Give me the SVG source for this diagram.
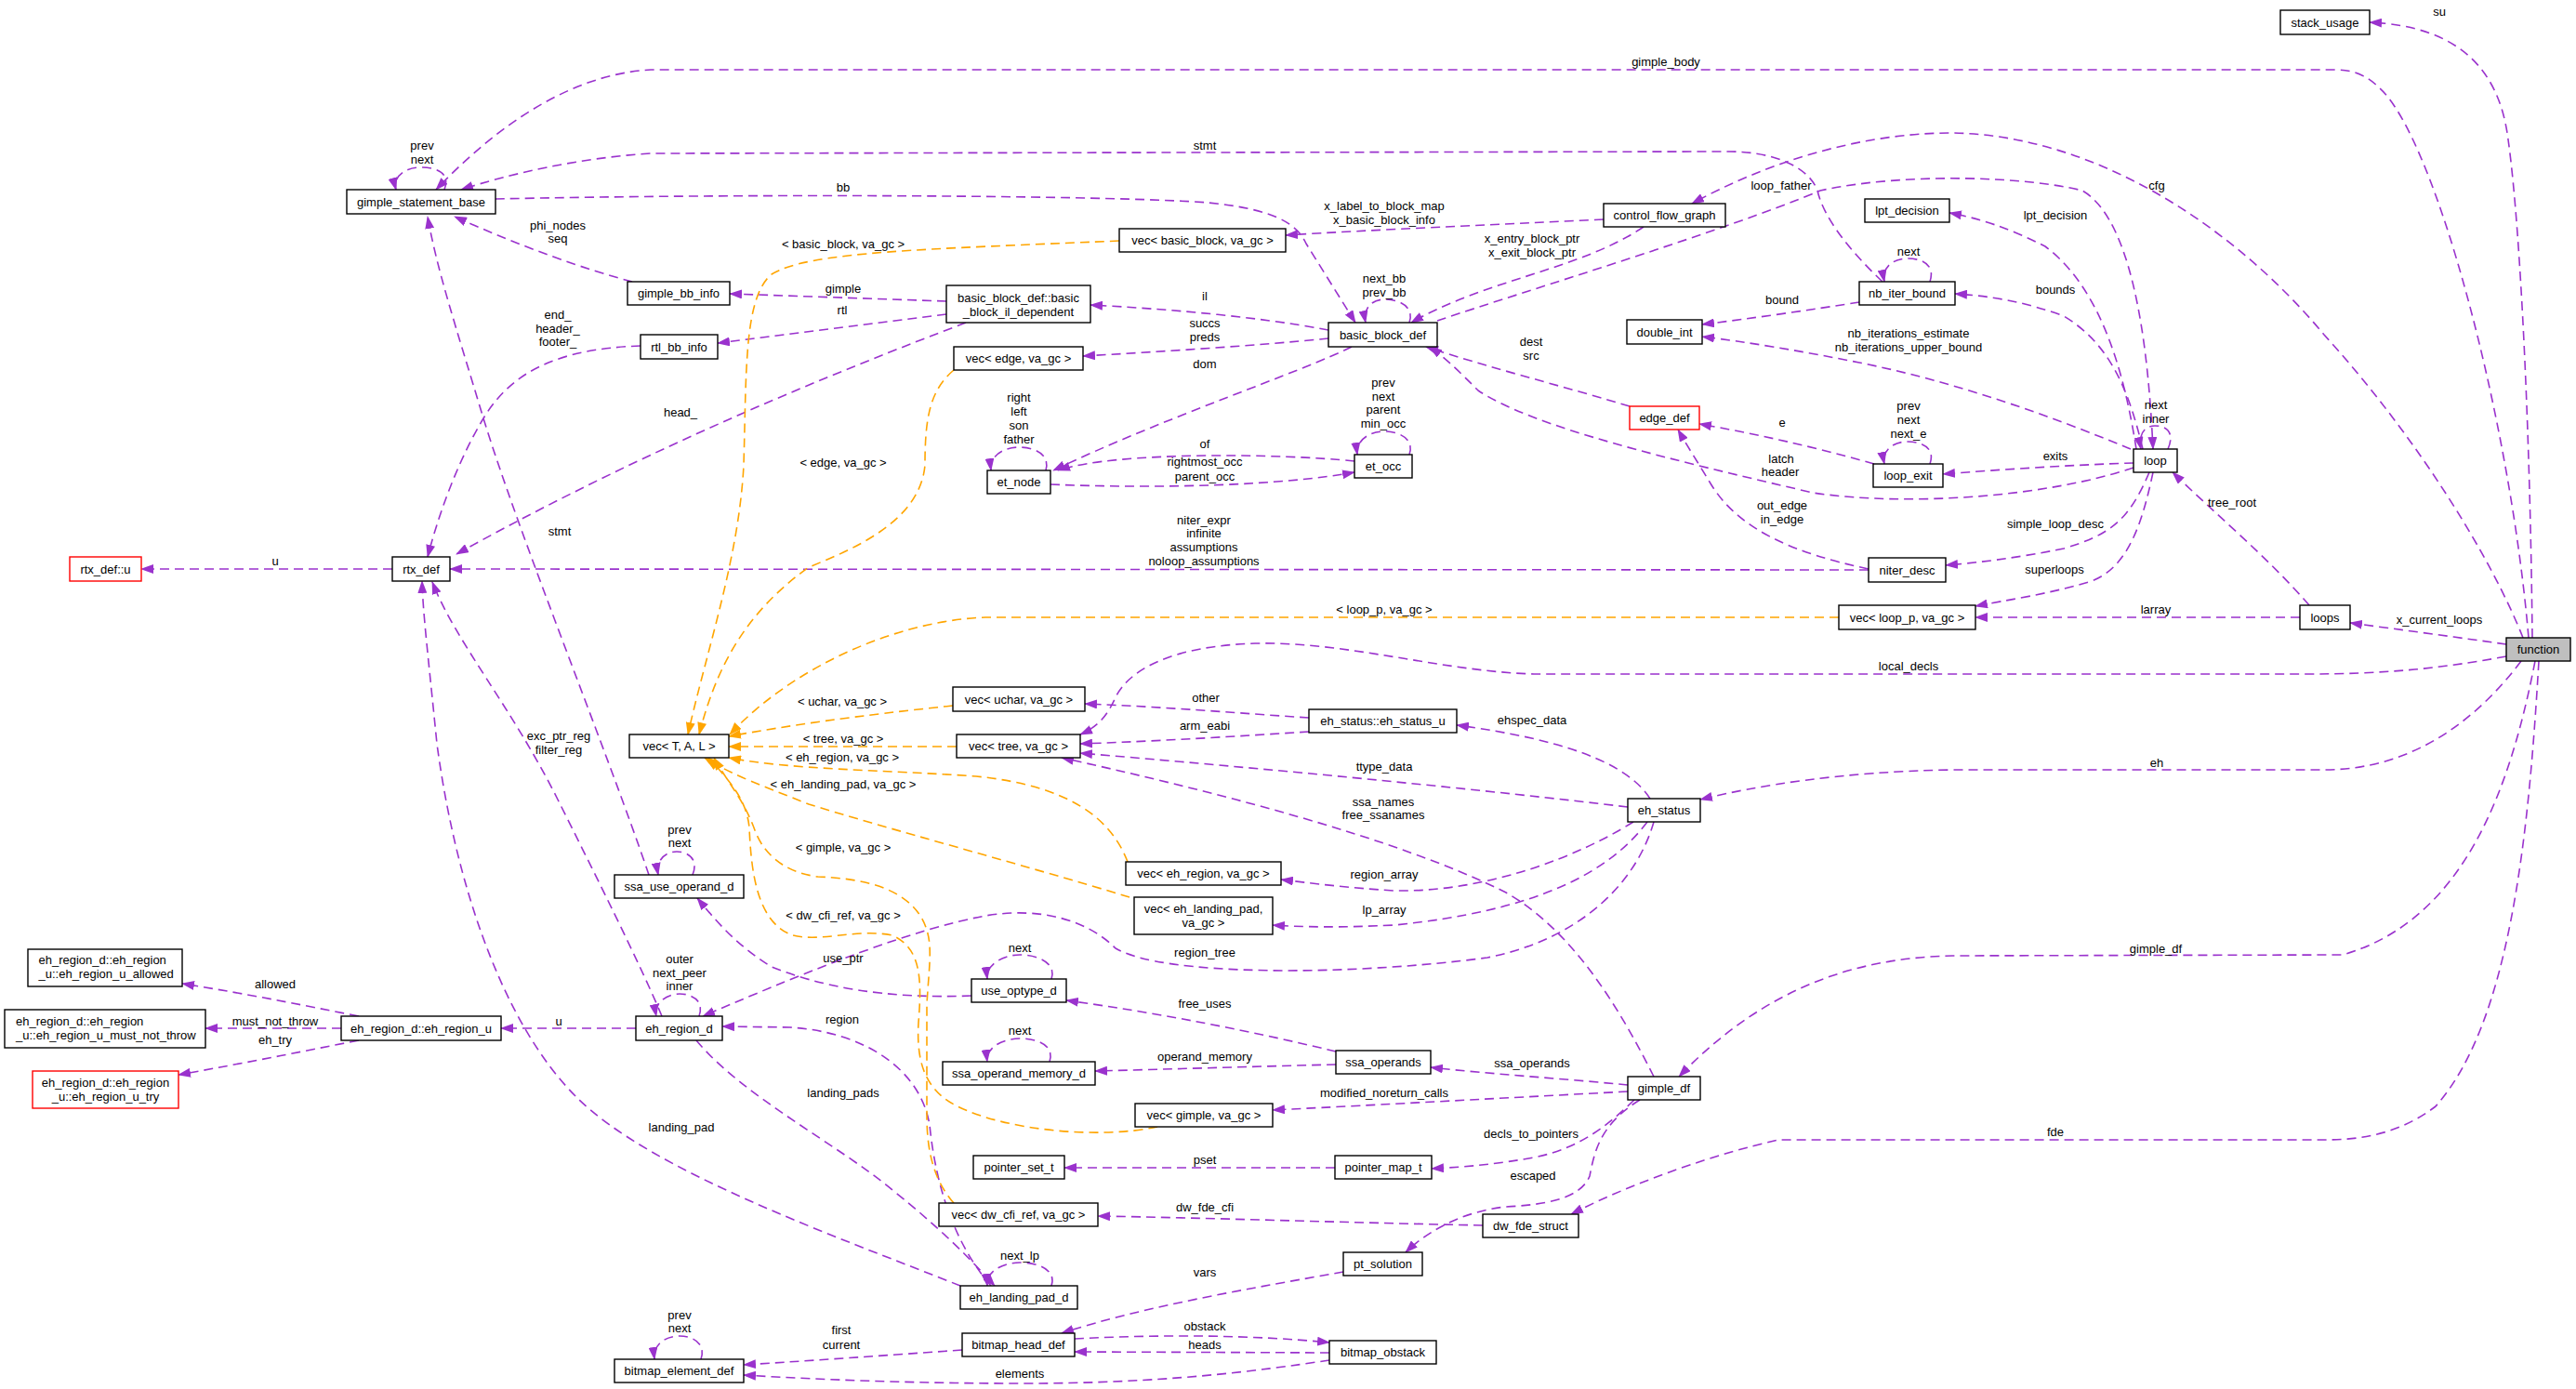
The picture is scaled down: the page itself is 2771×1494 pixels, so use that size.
<svg xmlns="http://www.w3.org/2000/svg" width="2771" height="1494" viewBox="0 0 2771 1494">
<style>
.n rect{fill:#fff;stroke:#000;stroke-width:1.4}
.r rect{fill:#fff;stroke:#ff0000;stroke-width:1.4}
.g rect{fill:#bfbfbf;stroke:#000;stroke-width:1.4}
text{font-family:"Liberation Sans",Arial,sans-serif;font-size:13px;fill:#000}
.c{text-anchor:middle}
#edges path{fill:none;stroke-width:1.6;stroke-dasharray:10,6}
#edges .p{stroke:#9a32cd;marker-end:url(#ap)}
#edges .o{stroke:#ffa500;marker-end:url(#ao)}
</style>
<defs>
<marker id="ap" markerUnits="userSpaceOnUse" markerWidth="14" markerHeight="10" viewBox="0 0 14 10" refX="13" refY="5" orient="auto"><path d="M0,0 L14,5 L0,10 z" fill="#9a32cd"/></marker>
<marker id="ao" markerUnits="userSpaceOnUse" markerWidth="14" markerHeight="10" viewBox="0 0 14 10" refX="13" refY="5" orient="auto"><path d="M0,0 L14,5 L0,10 z" fill="#ffa500"/></marker>
</defs>
<rect width="2771" height="1494" fill="#fff"/>
<g id="edges">
<path class="p" d="M2724,686 C2722,480 2712,250 2698,150 C2688,70 2640,28 2549,24"/>
<path class="p" d="M2720,686 C2700,450 2620,150 2560,95 C2545,80 2530,75 2511,75 L700,75 C610,80 530,140 469,204"/>
<path class="p" d="M2714,686 C2680,600 2600,470 2500,360 C2400,240 2250,145 2100,143 C2000,143 1900,175 1820,219"/>
<path class="p" d="M2696,693 C2640,685 2580,677 2528,670"/>
<path class="p" d="M2696,706 C2620,720 2560,725 2480,725 L1650,725 C1550,722 1450,690 1350,692 C1260,695 1215,720 1200,750 C1190,772 1180,782 1162,790"/>
<path class="p" d="M2712,711 C2660,780 2590,828 2500,828 L2100,828 C1980,830 1890,845 1829,860"/>
<path class="p" d="M2727,711 C2700,850 2650,990 2520,1027 L2100,1028 C2000,1030 1900,1060 1806,1158"/>
<path class="p" d="M2731,711 C2720,900 2700,1100 2620,1190 C2580,1220 2540,1226 2500,1226 L1913,1226 C1850,1240 1760,1270 1690,1306"/>
<path class="p" d="M2484,651 C2440,600 2380,550 2337,508"/>
<path class="p" d="M2474,664 L2125,664"/>
<path class="p" d="M1546,345 C1650,310 1850,250 1958,205 C2050,185 2180,190 2240,205 C2300,240 2312,400 2316,483"/>
<path class="p" d="M2298,483 C2285,400 2260,310 2200,265 C2160,245 2130,235 2097,229"/>
<path class="p" d="M2305,483 C2290,420 2270,370 2220,340 C2180,325 2140,318 2103,316"/>
<path class="p" d="M2292,483 C2200,445 2100,410 2000,390 C1940,378 1880,368 1831,362"/>
<path class="p" d="M2332,483 C2340,465 2330,458 2318,458 C2306,458 2300,468 2303,483"/>
<path class="p" d="M2295,498 C2230,500 2150,505 2090,510"/>
<path class="p" d="M2295,503 C2200,535 2050,545 1950,530 C1800,495 1650,460 1590,420 C1570,400 1555,385 1538,373"/>
<path class="p" d="M2312,508 C2290,560 2270,575 2220,590 C2170,600 2130,605 2093,608"/>
<path class="p" d="M2316,508 C2305,560 2290,610 2250,625 C2200,640 2160,645 2125,652"/>
<path class="p" d="M2025,303 C1990,270 1962,235 1955,205 C1945,178 1905,163 1860,163 L700,165 C620,170 545,188 496,204"/>
<path class="p" d="M2076,303 C2082,285 2068,278 2052,278 C2036,278 2024,288 2027,303"/>
<path class="p" d="M2000,325 C1950,333 1880,343 1831,349"/>
<path class="p" d="M1725,236 C1600,242 1480,247 1383,253"/>
<path class="p" d="M1768,244 C1700,290 1600,300 1518,347"/>
<path class="p" d="M533,214 C800,208 1200,210 1300,218 C1370,225 1395,240 1405,262 L1458,347"/>
<path class="p" d="M1516,347 C1522,330 1505,322 1490,322 C1475,322 1466,332 1469,347"/>
<path class="p" d="M1429,355 C1350,340 1250,332 1173,328"/>
<path class="p" d="M1429,364 C1350,372 1250,378 1165,383"/>
<path class="p" d="M1454,373 C1400,400 1250,450 1133,506"/>
<path class="p" d="M1753,437 C1680,415 1600,395 1534,373"/>
<path class="p" d="M2016,499 C1950,480 1880,465 1828,456"/>
<path class="p" d="M2010,612 C1930,595 1870,570 1840,520 C1825,495 1815,480 1805,462"/>
<path class="p" d="M2076,499 C2082,482 2068,475 2052,475 C2036,475 2024,485 2027,499"/>
<path class="p" d="M1457,496 C1380,488 1200,485 1138,506"/>
<path class="p" d="M1130,521 C1250,526 1380,522 1457,508"/>
<path class="p" d="M1516,489 C1522,472 1505,464 1489,464 C1473,464 1458,474 1460,489"/>
<path class="p" d="M1125,506 C1130,488 1112,481 1096,481 C1080,481 1064,490 1066,506"/>
<path class="p" d="M1018,324 L785,316"/>
<path class="p" d="M1018,338 L772,369"/>
<path class="p" d="M1039,347 C900,400 700,480 491,596"/>
<path class="p" d="M680,303 C630,290 560,265 489,233"/>
<path class="p" d="M478,204 C485,186 470,180 452,180 C436,180 422,190 426,204"/>
<path class="p" d="M689,372 C600,375 550,400 520,450 C490,500 470,560 460,599"/>
<path class="p" d="M698,941 C650,800 560,580 520,450 C490,350 470,290 460,233"/>
<path class="p" d="M422,612 L152,612"/>
<path class="p" d="M2010,613 L484,612"/>
<path class="p" d="M1408,772 C1330,767 1250,760 1167,757"/>
<path class="p" d="M1408,787 C1330,792 1250,797 1162,800"/>
<path class="p" d="M1751,868 C1600,850 1400,830 1162,810"/>
<path class="p" d="M1775,859 C1750,820 1680,795 1567,780"/>
<path class="p" d="M1779,1158 C1740,1080 1690,1000 1620,960 C1500,900 1300,850 1142,815"/>
<path class="p" d="M1757,884 C1700,920 1600,960 1500,958 C1450,955 1410,950 1378,946"/>
<path class="p" d="M1772,884 C1730,940 1650,980 1500,995 C1440,998 1400,997 1369,995"/>
<path class="p" d="M1779,884 C1760,950 1700,1010 1600,1030 C1450,1050 1250,1050 1200,1020 C1170,990 1120,975 1060,985 C980,1000 880,1040 756,1093"/>
<path class="p" d="M1751,1167 C1680,1160 1600,1155 1539,1148"/>
<path class="p" d="M1751,1174 C1600,1182 1450,1190 1369,1194"/>
<path class="p" d="M1758,1183 C1730,1210 1700,1235 1650,1245 C1610,1252 1580,1255 1540,1257"/>
<path class="p" d="M1764,1183 C1720,1210 1715,1240 1710,1265 C1700,1290 1660,1296 1620,1298 C1580,1302 1540,1320 1512,1347"/>
<path class="p" d="M1437,1131 C1350,1110 1250,1090 1147,1076"/>
<path class="p" d="M1437,1145 C1350,1147 1260,1150 1178,1152"/>
<path class="p" d="M1045,1071 C950,1075 880,1060 830,1040 C790,1015 770,990 750,966"/>
<path class="p" d="M1131,1053 C1137,1035 1115,1027 1097,1027 C1080,1027 1060,1037 1062,1053"/>
<path class="p" d="M1129,1142 C1135,1124 1115,1117 1097,1117 C1080,1117 1060,1126 1062,1142"/>
<path class="p" d="M745,941 C752,924 740,916 728,916 C716,916 705,925 708,941"/>
<path class="p" d="M1066,1383 C1020,1330 1005,1260 1000,1210 C990,1150 930,1110 850,1105 L777,1104"/>
<path class="p" d="M749,1119 C800,1180 900,1230 960,1280 C1010,1320 1040,1350 1070,1383"/>
<path class="p" d="M1033,1383 C900,1330 700,1260 620,1180 C540,1100 490,950 470,800 C460,700 455,660 454,625"/>
<path class="p" d="M712,1093 C690,1040 640,940 600,860 C550,760 490,690 465,626"/>
<path class="p" d="M752,1093 C758,1076 744,1069 731,1069 C718,1069 703,1078 706,1093"/>
<path class="p" d="M684,1106 L539,1106"/>
<path class="p" d="M386,1093 C320,1080 260,1068 196,1058"/>
<path class="p" d="M367,1106 L221,1106"/>
<path class="p" d="M386,1119 C320,1132 260,1144 192,1156"/>
<path class="p" d="M1131,1383 C1137,1365 1115,1358 1097,1358 C1080,1358 1060,1367 1062,1383"/>
<path class="p" d="M1436,1256 L1145,1256"/>
<path class="p" d="M1595,1318 C1450,1315 1300,1310 1181,1308"/>
<path class="p" d="M1445,1368 C1350,1385 1230,1405 1142,1434"/>
<path class="p" d="M1035,1452 C950,1458 880,1463 800,1468"/>
<path class="p" d="M1156,1440 C1250,1435 1350,1436 1430,1444"/>
<path class="p" d="M1430,1455 L1156,1454"/>
<path class="p" d="M1430,1463 C1350,1475 1250,1488 1100,1488 C1000,1488 900,1485 800,1479"/>
<path class="p" d="M754,1462 C760,1444 744,1437 731,1437 C716,1437 702,1446 704,1462"/>
<path class="o" d="M1204,259 C1000,268 870,270 830,295 C800,320 803,400 800,500 C795,600 760,700 740,790"/>
<path class="o" d="M1026,398 C1000,420 995,450 995,500 C990,560 920,590 870,610 C800,660 770,720 752,790"/>
<path class="o" d="M1978,664 L1060,664 C960,668 850,720 785,790"/>
<path class="o" d="M1025,759 C920,770 850,780 784,792"/>
<path class="o" d="M1029,803 L784,803"/>
<path class="o" d="M1213,927 C1195,880 1150,845 1050,835 C950,828 850,828 784,815"/>
<path class="o" d="M1215,965 C1100,930 950,890 870,865 C820,845 790,835 758,815"/>
<path class="o" d="M1245,1212 C1180,1226 1080,1215 1030,1190 C1000,1175 985,1150 988,1100 C992,1050 990,1020 960,1006 C920,998 880,1015 850,1005 C815,990 808,940 806,890 C803,860 785,840 762,815"/>
<path class="o" d="M1026,1294 C1005,1270 997,1240 997,1200 L997,1080 C1000,1030 1005,1010 990,985 C970,955 930,945 880,943 C840,938 820,915 812,893 C800,860 785,845 768,815"/>
</g>
<g id="labels" class="c">
<text x="2624" y="17">su</text>
<text x="1792" y="71">gimple_body</text>
<text x="1296" y="161">stmt</text>
<text x="454" y="161">prev</text><text x="454" y="176">next</text>
<text x="2320" y="204">cfg</text>
<text x="1916" y="204">loop_father</text>
<text x="907" y="206">bb</text>
<text x="1489" y="226">x_label_to_block_map</text><text x="1489" y="241">x_basic_block_info</text>
<text x="2211" y="236">lpt_decision</text>
<text x="600" y="247">phi_nodes</text><text x="600" y="261">seq</text>
<text x="1648" y="261">x_entry_block_ptr</text><text x="1648" y="276">x_exit_block_ptr</text>
<text x="907" y="267">&lt; basic_block, va_gc &gt;</text>
<text x="2053" y="275">next</text>
<text x="1489" y="304">next_bb</text><text x="1489" y="319">prev_bb</text>
<text x="907" y="315">gimple</text>
<text x="2211" y="316">bounds</text>
<text x="1296" y="323">il</text>
<text x="1917" y="327">bound</text>
<text x="906" y="338">rtl</text>
<text x="600" y="343">end_</text><text x="600" y="358">header_</text><text x="600" y="372">footer_</text>
<text x="1296" y="352">succs</text><text x="1296" y="367">preds</text>
<text x="2053" y="363">nb_iterations_estimate</text><text x="2053" y="378">nb_iterations_upper_bound</text>
<text x="1647" y="372">dest</text><text x="1647" y="387">src</text>
<text x="1296" y="396">dom</text>
<text x="1488" y="416">prev</text><text x="1488" y="431">next</text><text x="1488" y="445">parent</text><text x="1488" y="460">min_occ</text>
<text x="1096" y="432">right</text><text x="1096" y="447">left</text><text x="1096" y="462">son</text><text x="1096" y="477">father</text>
<text x="2319" y="440">next</text><text x="2319" y="455">inner</text>
<text x="2053" y="441">prev</text><text x="2053" y="456">next</text><text x="2053" y="471">next_e</text>
<text x="732" y="448">head_</text>
<text x="1917" y="459">e</text>
<text x="1296" y="482">of</text>
<text x="2211" y="495">exits</text>
<text x="1916" y="498">latch</text>
<text x="1296" y="501">rightmost_occ</text><text x="1296" y="517">parent_occ</text>
<text x="907" y="502">&lt; edge, va_gc &gt;</text>
<text x="1915" y="512">header</text>
<text x="2401" y="545">tree_root</text>
<text x="1917" y="548">out_edge</text><text x="1917" y="563">in_edge</text>
<text x="1295" y="564">niter_expr</text><text x="1295" y="578">infinite</text><text x="1295" y="593">assumptions</text><text x="1295" y="608">noloop_assumptions</text>
<text x="2211" y="568">simple_loop_desc</text>
<text x="602" y="576">stmt</text>
<text x="296" y="608">u</text>
<text x="2210" y="617">superloops</text>
<text x="1489" y="660">&lt; loop_p, va_gc &gt;</text>
<text x="2319" y="660">larray</text>
<text x="2624" y="671">x_current_loops</text>
<text x="2053" y="721">local_decls</text>
<text x="1297" y="755">other</text>
<text x="906" y="759">&lt; uchar, va_gc &gt;</text>
<text x="1648" y="779">ehspec_data</text>
<text x="1296" y="785">arm_eabi</text>
<text x="601" y="796">exc_ptr_reg</text><text x="601" y="811">filter_reg</text>
<text x="907" y="799">&lt; tree, va_gc &gt;</text>
<text x="906" y="819">&lt; eh_region, va_gc &gt;</text>
<text x="2320" y="825">eh</text>
<text x="1489" y="829">ttype_data</text>
<text x="907" y="848">&lt; eh_landing_pad, va_gc &gt;</text>
<text x="1488" y="867">ssa_names</text><text x="1488" y="881">free_ssanames</text>
<text x="731" y="897">prev</text><text x="731" y="911">next</text>
<text x="907" y="916">&lt; gimple, va_gc &gt;</text>
<text x="1489" y="945">region_array</text>
<text x="1489" y="983">lp_array</text>
<text x="907" y="989">&lt; dw_cfi_ref, va_gc &gt;</text>
<text x="2319" y="1025">gimple_df</text>
<text x="1097" y="1024">next</text>
<text x="1296" y="1029">region_tree</text>
<text x="907" y="1035">use_ptr</text>
<text x="731" y="1036">outer</text><text x="731" y="1051">next_peer</text><text x="731" y="1065">inner</text>
<text x="296" y="1063">allowed</text>
<text x="1296" y="1084">free_uses</text>
<text x="906" y="1101">region</text>
<text x="296" y="1103">must_not_throw</text>
<text x="601" y="1103">u</text>
<text x="1097" y="1113">next</text>
<text x="296" y="1123">eh_try</text>
<text x="1296" y="1141">operand_memory</text>
<text x="1648" y="1148">ssa_operands</text>
<text x="907" y="1180">landing_pads</text>
<text x="1489" y="1180">modified_noreturn_calls</text>
<text x="733" y="1217">landing_pad</text>
<text x="2211" y="1222">fde</text>
<text x="1647" y="1224">decls_to_pointers</text>
<text x="1296" y="1252">pset</text>
<text x="1649" y="1269">escaped</text>
<text x="1296" y="1303">dw_fde_cfi</text>
<text x="1097" y="1355">next_lp</text>
<text x="1296" y="1373">vars</text>
<text x="731" y="1419">prev</text><text x="731" y="1433">next</text>
<text x="1296" y="1431">obstack</text>
<text x="905" y="1435">first</text><text x="905" y="1451">current</text>
<text x="1296" y="1451">heads</text>
<text x="1097" y="1482">elements</text>
</g>
<g id="n_function" class="g"><rect x="2696" y="686" width="69" height="25"/><text class="c" x="2730.5" y="703">function</text></g>
<g id="n_stack_usage" class="n"><rect x="2453" y="11" width="96" height="26"/><text class="c" x="2501" y="28.5">stack_usage</text></g>
<g id="n_gimple_statement_base" class="n"><rect x="373" y="204" width="160" height="26"/><text class="c" x="453" y="221.5">gimple_statement_base</text></g>
<g id="n_control_flow_graph" class="n"><rect x="1725" y="219" width="131" height="25"/><text class="c" x="1790.5" y="236">control_flow_graph</text></g>
<g id="n_vec_basic_block" class="n"><rect x="1204" y="246" width="179" height="25"/><text class="c" x="1293.5" y="263">vec&lt; basic_block, va_gc &gt;</text></g>
<g id="n_lpt_decision" class="n"><rect x="2006" y="214" width="91" height="25"/><text class="c" x="2051.5" y="231">lpt_decision</text></g>
<g id="n_gimple_bb_info" class="n"><rect x="675" y="303" width="110" height="25"/><text class="c" x="730" y="320">gimple_bb_info</text></g>
<g id="n_bb_il_dependent" class="n"><rect x="1018" y="307" width="155" height="40"/><text class="c" x="1095.5" y="324.5">basic_block_def::basic</text><text class="c" x="1095.5" y="339.5">_block_il_dependent</text></g>
<g id="n_nb_iter_bound" class="n"><rect x="2000" y="303" width="103" height="25"/><text class="c" x="2051.5" y="320">nb_iter_bound</text></g>
<g id="n_rtl_bb_info" class="n"><rect x="689" y="360" width="83" height="26"/><text class="c" x="730.5" y="377.5">rtl_bb_info</text></g>
<g id="n_basic_block_def" class="n"><rect x="1429" y="347" width="117" height="26"/><text class="c" x="1487.5" y="364.5">basic_block_def</text></g>
<g id="n_double_int" class="n"><rect x="1750" y="344" width="81" height="26"/><text class="c" x="1790.5" y="361.5">double_int</text></g>
<g id="n_vec_edge" class="n"><rect x="1026" y="373" width="139" height="25"/><text class="c" x="1095.5" y="390">vec&lt; edge, va_gc &gt;</text></g>
<g id="n_edge_def" class="r"><rect x="1753" y="437" width="75" height="25"/><text class="c" x="1790.5" y="454">edge_def</text></g>
<g id="n_loop" class="n"><rect x="2295" y="483" width="47" height="25"/><text class="c" x="2318.5" y="500">loop</text></g>
<g id="n_et_occ" class="n"><rect x="1457" y="489" width="62" height="25"/><text class="c" x="1488" y="506">et_occ</text></g>
<g id="n_loop_exit" class="n"><rect x="2015" y="499" width="75" height="25"/><text class="c" x="2052.5" y="516">loop_exit</text></g>
<g id="n_et_node" class="n"><rect x="1062" y="506" width="68" height="25"/><text class="c" x="1096" y="523">et_node</text></g>
<g id="n_rtx_def_u" class="r"><rect x="75" y="599" width="77" height="26"/><text class="c" x="113.5" y="616.5">rtx_def::u</text></g>
<g id="n_rtx_def" class="n"><rect x="422" y="599" width="62" height="26"/><text class="c" x="453" y="616.5">rtx_def</text></g>
<g id="n_niter_desc" class="n"><rect x="2010" y="600" width="83" height="26"/><text class="c" x="2051.5" y="617.5">niter_desc</text></g>
<g id="n_vec_loop_p" class="n"><rect x="1978" y="651" width="147" height="26"/><text class="c" x="2051.5" y="668.5">vec&lt; loop_p, va_gc &gt;</text></g>
<g id="n_loops" class="n"><rect x="2474" y="651" width="54" height="26"/><text class="c" x="2501" y="668.5">loops</text></g>
<g id="n_vec_uchar" class="n"><rect x="1025" y="739" width="142" height="26"/><text class="c" x="1096" y="756.5">vec&lt; uchar, va_gc &gt;</text></g>
<g id="n_eh_status_u" class="n"><rect x="1408" y="763" width="159" height="25"/><text class="c" x="1487.5" y="780">eh_status::eh_status_u</text></g>
<g id="n_vec_T_A_L" class="n"><rect x="677" y="790" width="107" height="25"/><text class="c" x="730.5" y="807">vec&lt; T, A, L &gt;</text></g>
<g id="n_vec_tree" class="n"><rect x="1029" y="790" width="133" height="25"/><text class="c" x="1095.5" y="807">vec&lt; tree, va_gc &gt;</text></g>
<g id="n_eh_status" class="n"><rect x="1751" y="859" width="78" height="25"/><text class="c" x="1790" y="876">eh_status</text></g>
<g id="n_vec_eh_region" class="n"><rect x="1211" y="927" width="167" height="25"/><text class="c" x="1294.5" y="944">vec&lt; eh_region, va_gc &gt;</text></g>
<g id="n_ssa_use_operand_d" class="n"><rect x="661" y="941" width="139" height="25"/><text class="c" x="730.5" y="958">ssa_use_operand_d</text></g>
<g id="n_vec_eh_landing_pad" class="n"><rect x="1220" y="965" width="149" height="40"/><text class="c" x="1294.5" y="981.5">vec&lt; eh_landing_pad,</text><text class="c" x="1294.5" y="996.5">va_gc &gt;</text></g>
<g id="n_eh_region_u_allowed" class="n"><rect x="30" y="1021" width="166" height="40"/><text x="41.5" y="1036.5">eh_region_d::eh_region</text><text x="41.5" y="1051.5">_u::eh_region_u_allowed</text></g>
<g id="n_eh_region_u_must_not_throw" class="n"><rect x="5" y="1086" width="216" height="41"/><text x="17" y="1102.5">eh_region_d::eh_region</text><text x="17" y="1117.5">_u::eh_region_u_must_not_throw</text></g>
<g id="n_eh_region_u_try" class="r"><rect x="35" y="1152" width="157" height="40"/><text class="c" x="113.5" y="1168.5">eh_region_d::eh_region</text><text class="c" x="113.5" y="1183.5">_u::eh_region_u_try</text></g>
<g id="n_eh_region_u" class="n"><rect x="367" y="1093" width="172" height="26"/><text class="c" x="453" y="1110.5">eh_region_d::eh_region_u</text></g>
<g id="n_eh_region_d" class="n"><rect x="684" y="1093" width="93" height="26"/><text class="c" x="730.5" y="1110.5">eh_region_d</text></g>
<g id="n_use_optype_d" class="n"><rect x="1045" y="1053" width="102" height="25"/><text class="c" x="1096" y="1070">use_optype_d</text></g>
<g id="n_ssa_operands" class="n"><rect x="1437" y="1130" width="102" height="25"/><text class="c" x="1488" y="1147">ssa_operands</text></g>
<g id="n_ssa_operand_memory_d" class="n"><rect x="1014" y="1142" width="164" height="25"/><text class="c" x="1096" y="1159">ssa_operand_memory_d</text></g>
<g id="n_gimple_df" class="n"><rect x="1751" y="1158" width="78" height="25"/><text class="c" x="1790" y="1175">gimple_df</text></g>
<g id="n_vec_gimple" class="n"><rect x="1221" y="1187" width="148" height="25"/><text class="c" x="1295" y="1204">vec&lt; gimple, va_gc &gt;</text></g>
<g id="n_pointer_set_t" class="n"><rect x="1047" y="1243" width="98" height="25"/><text class="c" x="1096" y="1260">pointer_set_t</text></g>
<g id="n_pointer_map_t" class="n"><rect x="1436" y="1243" width="104" height="25"/><text class="c" x="1488" y="1260">pointer_map_t</text></g>
<g id="n_vec_dw_cfi_ref" class="n"><rect x="1010" y="1294" width="171" height="25"/><text class="c" x="1095.5" y="1311">vec&lt; dw_cfi_ref, va_gc &gt;</text></g>
<g id="n_dw_fde_struct" class="n"><rect x="1595" y="1306" width="103" height="25"/><text class="c" x="1646.5" y="1323">dw_fde_struct</text></g>
<g id="n_pt_solution" class="n"><rect x="1445" y="1347" width="85" height="25"/><text class="c" x="1487.5" y="1364">pt_solution</text></g>
<g id="n_eh_landing_pad_d" class="n"><rect x="1033" y="1383" width="126" height="25"/><text class="c" x="1096" y="1400">eh_landing_pad_d</text></g>
<g id="n_bitmap_head_def" class="n"><rect x="1035" y="1434" width="121" height="25"/><text class="c" x="1095.5" y="1451">bitmap_head_def</text></g>
<g id="n_bitmap_obstack" class="n"><rect x="1430" y="1442" width="115" height="25"/><text class="c" x="1487.5" y="1459">bitmap_obstack</text></g>
<g id="n_bitmap_element_def" class="n"><rect x="661" y="1462" width="139" height="25"/><text class="c" x="730.5" y="1479">bitmap_element_def</text></g>
</svg>
